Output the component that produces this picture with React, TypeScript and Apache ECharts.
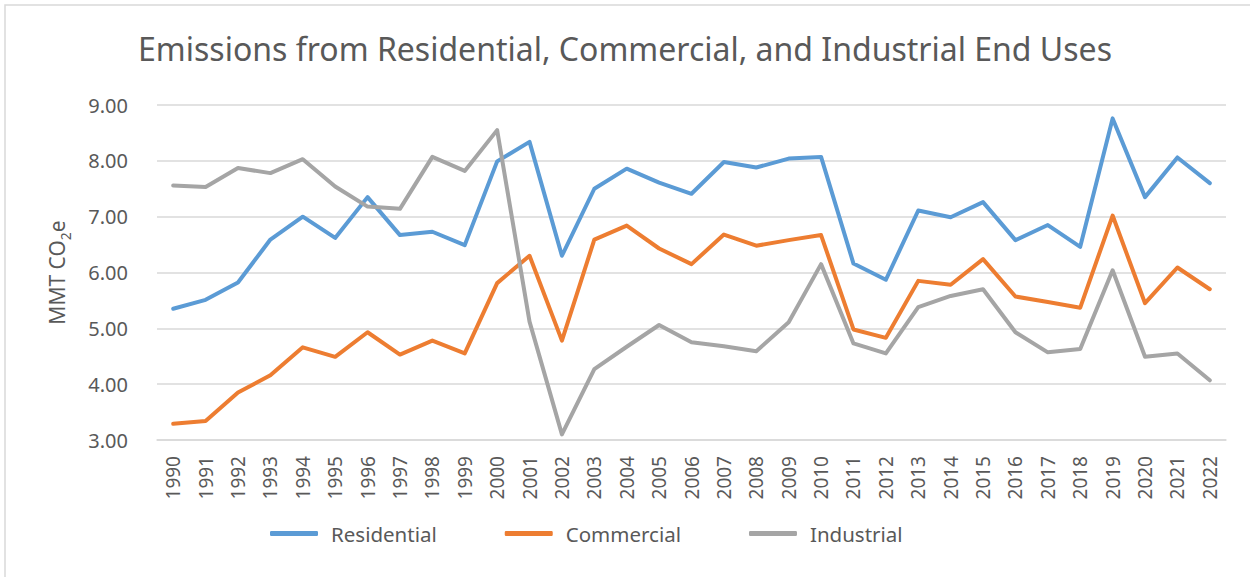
import React, { useEffect, useRef } from "react";
import * as echarts from "echarts";

const years = [
  "1990", "1991", "1992", "1993", "1994", "1995", "1996", "1997", "1998", "1999",
  "2000", "2001", "2002", "2003", "2004", "2005", "2006", "2007", "2008", "2009",
  "2010", "2011", "2012", "2013", "2014", "2015", "2016", "2017", "2018", "2019",
  "2020", "2021", "2022",
];

const residential = [
  5.35, 5.51, 5.82, 6.59, 7.0, 6.62, 7.35, 6.67, 6.73, 6.49,
  7.99, 8.34, 6.3, 7.5, 7.86, 7.61, 7.41, 7.98, 7.88, 8.04,
  8.07, 6.16, 5.87, 7.11, 6.99, 7.26, 6.58, 6.85, 6.46, 8.76,
  7.35, 8.06, 7.6,
];

const commercial = [
  3.29, 3.34, 3.85, 4.16, 4.66, 4.49, 4.93, 4.53, 4.78, 4.55,
  5.81, 6.3, 4.78, 6.59, 6.84, 6.43, 6.15, 6.68, 6.48, 6.58,
  6.67, 4.98, 4.83, 5.85, 5.78, 6.24, 5.57, 5.47, 5.37, 7.02,
  5.45, 6.09, 5.7,
];

const industrial = [
  7.56, 7.53, 7.87, 7.78, 8.03, 7.54, 7.18, 7.14, 8.07, 7.82,
  8.55, 5.12, 3.1, 4.27, 4.67, 5.06, 4.75, 4.68, 4.59, 5.11,
  6.15, 4.73, 4.55, 5.38, 5.58, 5.7, 4.93, 4.57, 4.63, 6.04,
  4.49, 4.55, 4.07,
];

const yTicks = { min: 3, max: 9, interval: 1 };

const FONT = "'Noto Sans', 'Open Sans', sans-serif";
const TXT = "#595959";

export default function App() {
  const ref = useRef<HTMLDivElement>(null);
  useEffect(() => {
    if (!ref.current) return;
    const chart = echarts.init(ref.current, undefined, { renderer: "svg" });
    const mk = (name: string, data: number[], color: string) => ({
      name,
      type: "line",
      data,
      showSymbol: false,
      symbol: "none",
      lineStyle: { width: 4, color, cap: "round", join: "round" },
      itemStyle: { color },
    });
    chart.setOption({
      animation: false,
      backgroundColor: "#ffffff",
      textStyle: { fontFamily: FONT },
      title: {
        text: "Emissions from Residential, Commercial, and Industrial End Uses",
        left: "center",
        top: 27,
        textStyle: { fontFamily: FONT, fontSize: 32, fontWeight: "normal", color: TXT },
      },
      graphic: [
        {
          type: "rect",
          shape: { x: 5, y: 5, width: 1250, height: 600 },
          style: { fill: "none", stroke: "#d9d9d9", lineWidth: 1.5 },
          silent: true,
        },
      ],
      legend: {
        bottom: 28,
        left: 265,
        itemWidth: 48,
        itemHeight: 5,
        itemGap: 68,
        icon: "roundRect",
        textStyle: { fontFamily: FONT, fontSize: 20.5, color: TXT, padding: [0, 0, 0, 8] },
        data: ["Residential", "Commercial", "Industrial"],
      },
      grid: { left: 157, right: 24, top: 105, bottom: 137, containLabel: false },
      xAxis: {
        type: "category",
        data: years,
        boundaryGap: true,
        axisLine: { lineStyle: { color: "#d9d9d9", width: 1.5 } },
        axisTick: { show: false },
        axisLabel: {
          rotate: 90,
          interval: 0,
          margin: 16,
          fontFamily: FONT,
          fontSize: 19,
          color: TXT,
        },
      },
      yAxis: {
        type: "value",
        min: yTicks.min,
        max: yTicks.max,
        interval: yTicks.interval,
        name: "MMT CO{sub|2}e",
        nameLocation: "middle",
        nameRotate: 90,
        nameGap: 90,
        nameTextStyle: {
          fontFamily: FONT,
          fontSize: 21,
          color: TXT,
          rich: {
            sub: { fontSize: 14, color: TXT, fontFamily: FONT, verticalAlign: "bottom", padding: [0, 0, -5, 0] },
          },
        },
        axisLine: { show: false },
        axisTick: { show: false },
        splitLine: { lineStyle: { color: "#d9d9d9", width: 1.5 } },
        axisLabel: {
          margin: 29,
          fontFamily: FONT,
          fontSize: 20,
          color: TXT,
          formatter: (v: number) => v.toFixed(2),
        },
      },
      series: [
        mk("Residential", residential, "#5b9bd5"),
        mk("Commercial", commercial, "#ed7d31"),
        mk("Industrial", industrial, "#a5a5a5"),
      ],
    });
    return () => chart.dispose();
  }, []);
  return (
    <div
      ref={ref}
      style={{ position: "absolute", left: 0, top: 0, width: 1250, height: 577 }}
    />
  );
}
